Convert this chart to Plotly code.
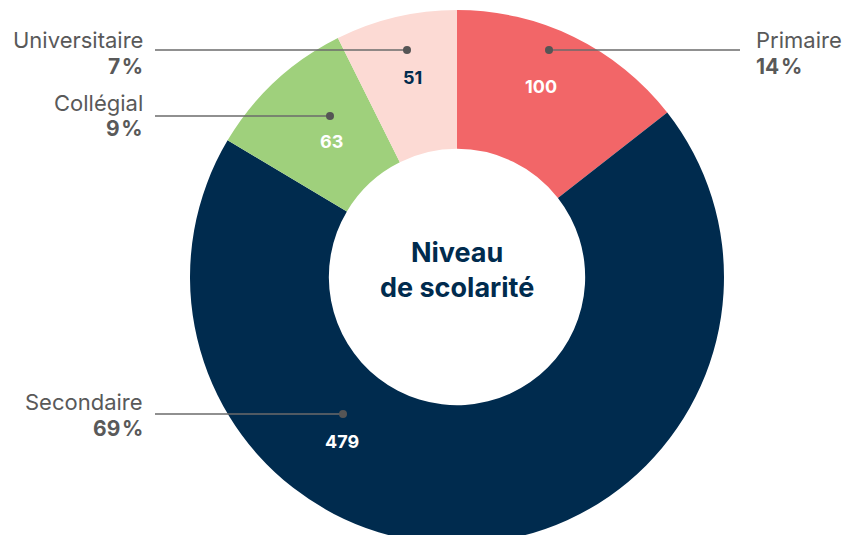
import plotly.graph_objects as go

# ---- data ----
categories = ["Primaire", "Secondaire", "Collégial", "Universitaire"]
counts = [100, 479, 63, 51]
percent_labels = ["14\u200a%", "69\u200a%", "9\u200a%", "7\u200a%"]
center_title = "Niveau<br>de scolarité"

# ---- styling ----
colors = ["#F26668", "#002B4E", "#9FD07C", "#FCDAD4"]
value_colors = ["#FFFFFF", "#FFFFFF", "#FFFFFF", "#002B4E"]
W, H = 849, 544
FONT = "Inter, Lato, 'Open Sans', sans-serif"
GREY = "#595959"


def px(x):
    return x / W


def py(y):
    return 1 - y / H


# anchor positions (pixels) for the call-out layout
value_pos = [(541, 86), (342, 441), (331, 142), (412, 77)]
dot_pos = [(549, 50), (343, 414), (330, 116), (407, 50)]
line_end_x = [740, 155, 155, 155]
name_pos = [(754, 40), (145, 402), (145, 103), (145, 40)]
name_anchor = ["left", "right", "right", "right"]

fig = go.Figure()
fig.add_trace(go.Pie(
    labels=categories,
    values=counts,
    sort=False,
    direction="clockwise",
    rotation=0,
    hole=0.48,
    marker=dict(colors=colors, line=dict(width=0)),
    textinfo="none",
    hoverinfo="label+value+percent",
    showlegend=False,
    domain=dict(x=[px(190), px(724)], y=[py(544), py(10)]),
))

shapes = []
annotations = []
for i, cat in enumerate(categories):
    dx, dy = dot_pos[i]
    shapes.append(dict(type="line", xref="paper", yref="paper",
                       x0=px(dx), y0=py(dy), x1=px(line_end_x[i]), y1=py(dy),
                       line=dict(color="#6b6b6b", width=1.5), layer="above"))
    shapes.append(dict(type="circle", xref="paper", yref="paper",
                       x0=px(dx - 4), y0=py(dy - 4), x1=px(dx + 4), y1=py(dy + 4),
                       fillcolor="#555555", line=dict(width=0), layer="above"))
    vx, vy = value_pos[i]
    annotations.append(dict(xref="paper", yref="paper", x=px(vx), y=py(vy),
                            text=f"<b>{counts[i]}</b>", showarrow=False,
                            font=dict(family=FONT, size=18, color=value_colors[i]),
                            xanchor="center", yanchor="middle"))
    nx, ny = name_pos[i]
    annotations.append(dict(xref="paper", yref="paper", x=px(nx), y=py(ny),
                            text=cat, showarrow=False,
                            font=dict(family=FONT, size=22, color=GREY),
                            xanchor=name_anchor[i], yanchor="middle"))
    annotations.append(dict(xref="paper", yref="paper", x=px(nx), y=py(ny + 26),
                            text=f"<b>{percent_labels[i]}</b>", showarrow=False,
                            font=dict(family=FONT, size=21, color=GREY),
                            xanchor=name_anchor[i], yanchor="middle"))

annotations.append(dict(xref="paper", yref="paper", x=px(457), y=py(270),
                        text=f"<b>{center_title}</b>", showarrow=False,
                        font=dict(family=FONT, size=27, color="#002B4E"),
                        xanchor="center", yanchor="middle"))

fig.update_layout(
    width=W, height=H,
    margin=dict(l=0, r=0, t=0, b=0),
    paper_bgcolor="white",
    plot_bgcolor="white",
    shapes=shapes,
    annotations=annotations,
)

fig.write_html("out.html", config={"displayModeBar": False},
               post_script="document.body.style.margin='0';document.body.style.overflow='hidden';")
